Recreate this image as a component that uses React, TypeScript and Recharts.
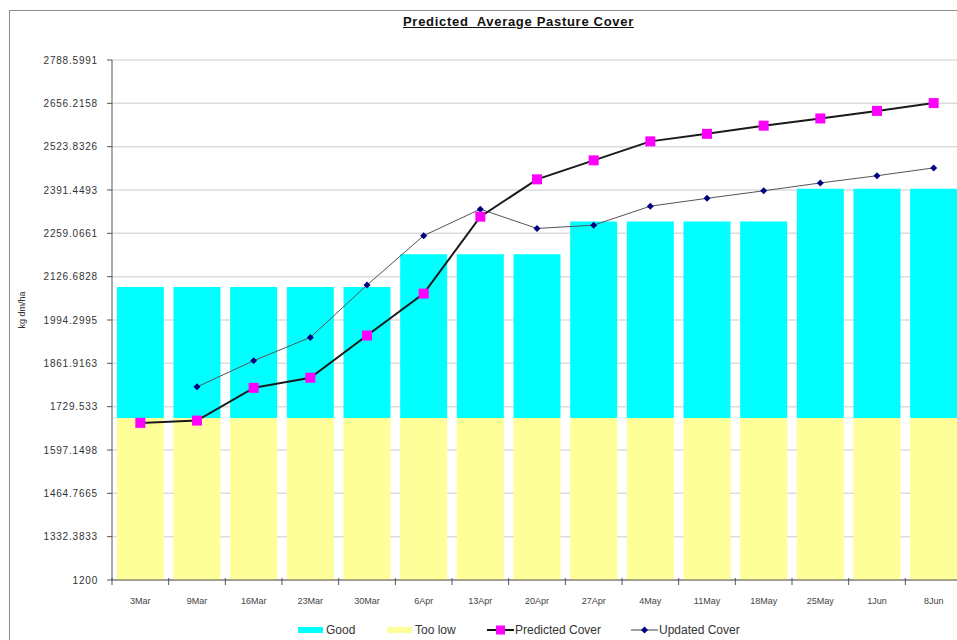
import {
  ComposedChart,
  Bar,
  Line,
  XAxis,
  YAxis,
  CartesianGrid,
} from "recharts";

const DATES = ["3Mar", "9Mar", "16Mar", "23Mar", "30Mar", "6Apr", "13Apr", "20Apr", "27Apr", "4May", "11May", "18May", "25May", "1Jun", "8Jun"];
const TOO_LOW = [1695, 1695, 1695, 1695, 1695, 1695, 1695, 1695, 1695, 1695, 1695, 1695, 1695, 1695, 1695];
const GOOD = [400, 400, 400, 400, 400, 500, 500, 500, 600, 600, 600, 600, 700, 700, 700];
const PREDICTED = [1680, 1687, 1787, 1818, 1947, 2075, 2310, 2424, 2482, 2540, 2563, 2588, 2610, 2633, 2657];
const UPDATED = [null, 1790, 1870, 1941, 2101, 2252, 2333, 2274, 2284, 2342, 2366, 2389, 2413, 2435, 2459];
const Y_TICKS = [1200, 1332.3833, 1464.7665, 1597.1498, 1729.533, 1861.9163, 1994.2995, 2126.6828, 2259.0661, 2391.4493, 2523.8326, 2656.2158, 2788.5991];

const data = DATES.map((date, i) => ({
  date,
  tooLow: TOO_LOW[i],
  good: GOOD[i],
  predicted: PREDICTED[i],
  updated: UPDATED[i],
}));

const CHART_W = 980;
const CHART_H = 640;
const PLOT_LEFT = 112;
const PLOT_RIGHT = 962;
const HALF_BAND = (PLOT_RIGHT - PLOT_LEFT) / DATES.length / 2;
const FONT = "'Liberation Sans', Arial, sans-serif";

const XTick = (props: any) => {
  const { x, y, payload } = props;
  return (
    <g>
      <line x1={x - HALF_BAND} x2={x - HALF_BAND} y1={y - 2} y2={y + 5} stroke="#555" />
      <text x={x} y={y + 24} textAnchor="middle" fontSize={9} fill="#444" fontFamily={FONT}>
        {payload.value}
      </text>
    </g>
  );
};

const SquareDot = (props: any) => {
  const { cx, cy, index } = props;
  if (cy == null || isNaN(cy)) return <g key={`sq-${index}`} />;
  return <rect key={`sq-${index}`} x={cx - 5} y={cy - 5} width={10} height={10} fill="#ff00ff" />;
};

const DiamondDot = (props: any) => {
  const { cx, cy, index } = props;
  if (cy == null || isNaN(cy)) return <g key={`dm-${index}`} />;
  return (
    <path
      key={`dm-${index}`}
      d={`M${cx},${cy - 3.5} L${cx + 3.5},${cy} L${cx},${cy + 3.5} L${cx - 3.5},${cy} Z`}
      fill="#000080"
    />
  );
};

const legendItems = [
  { label: "Good", kind: "box", color: "#00ffff", left: 298 },
  { label: "Too low", kind: "box", color: "#ffff99", left: 387 },
  { label: "Predicted Cover", kind: "square", color: "#ff00ff", left: 487 },
  { label: "Updated Cover", kind: "diamond", color: "#000080", left: 631 },
];

export default function App() {
  return (
    <div
      style={{
        position: "fixed",
        left: 0,
        top: 0,
        width: 957,
        height: 640,
        overflow: "hidden",
        background: "#fff",
        fontFamily: FONT,
      }}
    >
      {/* outer frame */}
      <div
        style={{
          position: "absolute",
          left: 9,
          top: 10,
          width: 2000,
          height: 2000,
          border: "1px solid #8c8c8c",
        }}
      />

      <div
        style={{
          position: "absolute",
          left: 0,
          top: 14,
          width: 1037,
          textAlign: "center",
          fontSize: 13,
          letterSpacing: 0.7,
          fontWeight: "bold",
          textDecoration: "underline",
          color: "#111",
          whiteSpace: "pre",
        }}
      >
        {"Predicted  Average Pasture Cover"}
      </div>

      <div style={{ position: "absolute", left: 0, top: 0 }}>
        <ComposedChart
          width={CHART_W}
          height={CHART_H}
          data={data}
          margin={{ top: 60, right: CHART_W - PLOT_RIGHT, left: PLOT_LEFT - 100, bottom: 30 }}
          barCategoryGap="8.5%"
        >
          <CartesianGrid horizontal vertical={false} stroke="#dcdcdc" strokeWidth={1.5} />
          <XAxis
            dataKey="date"
            height={30}
            tickLine={false}
            tickSize={0}
            tickMargin={0}
            interval={0}
            axisLine={{ stroke: "#555" }}
            tick={<XTick />}
          />
          <YAxis
            width={100}
            domain={[1200, 2788.5991]}
            ticks={Y_TICKS}
            allowDataOverflow
            interval={0}
            tickSize={5}
            tickMargin={9}
            axisLine={{ stroke: "#555" }}
            tickLine={{ stroke: "#555" }}
            tick={{ fontSize: 10, fill: "#333", fontFamily: FONT, letterSpacing: 0.8 }}
            label={{
              value: "kg dm/ha",
              angle: -90,
              position: "insideLeft",
              offset: 10,
              dy: -10,
              style: { fontSize: 9, fill: "#333", fontFamily: FONT, textAnchor: "middle" },
            }}
          />
          <Bar dataKey="tooLow" name="Too low" stackId="a" fill="#ffff99" isAnimationActive={false} />
          <Bar dataKey="good" name="Good" stackId="a" fill="#00ffff" isAnimationActive={false} />
          <Line
            dataKey="updated"
            name="Updated Cover"
            stroke="#555"
            strokeWidth={1}
            dot={DiamondDot}
            activeDot={false}
            isAnimationActive={false}
          />
          <Line
            dataKey="predicted"
            name="Predicted Cover"
            stroke="#1a1a1a"
            strokeWidth={2}
            dot={SquareDot}
            activeDot={false}
            isAnimationActive={false}
          />
        </ComposedChart>
      </div>

      {/* legend */}
      {legendItems.map((item) => (
        <div
          key={item.label}
          style={{
            position: "absolute",
            left: item.left,
            top: 623,
            display: "flex",
            alignItems: "center",
            gap: item.kind === "box" ? 3 : 1,
            fontSize: 12,
            color: "#333",
          }}
        >
          <svg width={item.kind === "box" ? 25 : 27} height={12}>
            {item.kind === "box" ? (
              <rect x={0} y={3} width={25} height={6} fill={item.color} />
            ) : (
              <>
                <line
                  x1={0}
                  x2={27}
                  y1={6}
                  y2={6}
                  stroke={item.kind === "square" ? "#111" : "#444"}
                  strokeWidth={item.kind === "square" ? 2 : 1}
                />
                {item.kind === "square" ? (
                  <rect x={9} y={1.5} width={9} height={9} fill={item.color} />
                ) : (
                  <path d="M13.5,2.5 L17,6 L13.5,9.5 L10,6 Z" fill={item.color} />
                )}
              </>
            )}
          </svg>
          <span>{item.label}</span>
        </div>
      ))}
    </div>
  );
}
